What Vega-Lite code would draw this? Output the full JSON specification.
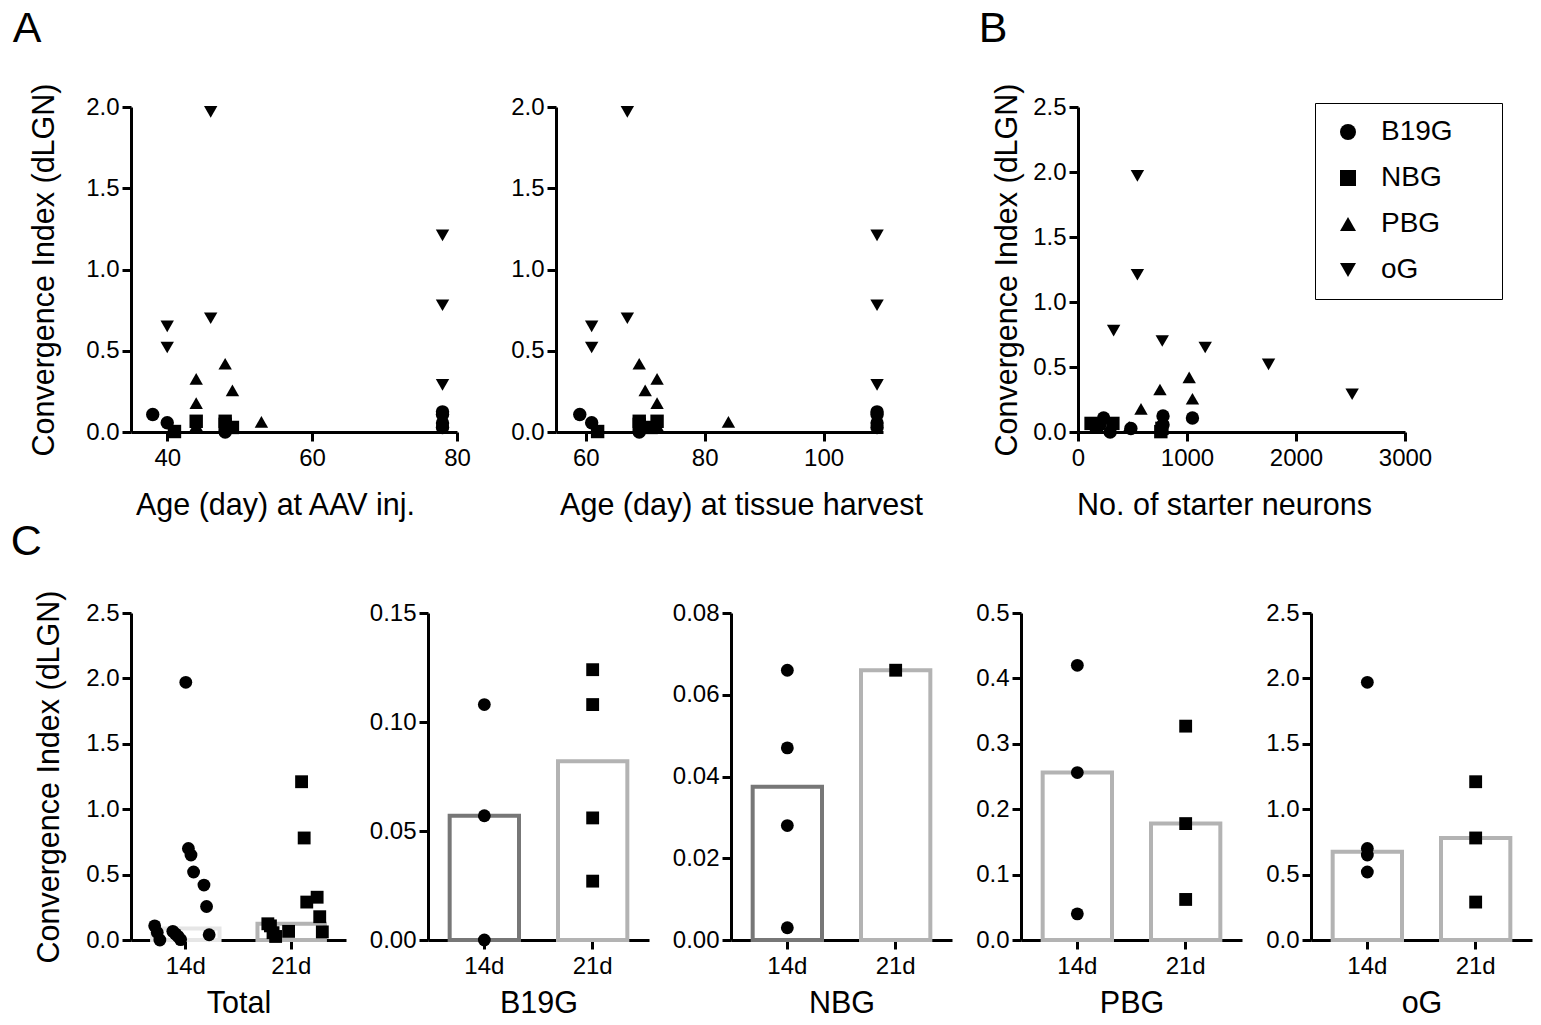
{
  "$schema": "https://vega.github.io/schema/vega-lite/v6.json",
  "background": "white",
  "padding": {"left": 10, "top": 8, "right": 10, "bottom": 4},
  "config": {
    "font": "Liberation Sans",
    "view": {"stroke": null},
    "axis": {"grid": false, "domainColor": "black", "domainWidth": 3, "tickColor": "black", "tickWidth": 3, "tickSize": 9, "labelFontSize": 24, "labelColor": "black", "labelPadding": 3, "titleFontSize": 30.5, "titleFontWeight": "normal", "titleColor": "black", "labelFont": "Liberation Sans", "titleFont": "Liberation Sans"},
    "axisY": {"titlePadding": 26},
    "axisX": {"titlePadding": 20, "labelFlush": false, "labelPadding": 5},
    "title": {"fontSize": 43, "fontWeight": "normal", "color": "black", "anchor": "start", "font": "Liberation Sans"}
  },
  "datasets": {
    "animals": [
      {"id": "b1", "group": "B19G", "time": "14d", "ci": 0.108, "aav": 38, "harvest": 59, "starters": 235},
      {"id": "b2", "group": "B19G", "time": "14d", "ci": 0.057, "aav": 40, "harvest": 61, "starters": 200},
      {"id": "b3", "group": "B19G", "time": "14d", "ci": 0.0, "aav": 48, "harvest": 69, "starters": 295},
      {"id": "b4", "group": "B19G", "time": "21d", "ci": 0.124, "aav": 78, "harvest": 109, "starters": 780},
      {"id": "b5", "group": "B19G", "time": "21d", "ci": 0.108, "aav": 78, "harvest": 109, "starters": 1050},
      {"id": "b6", "group": "B19G", "time": "21d", "ci": 0.056, "aav": 78, "harvest": 109, "starters": 780},
      {"id": "b7", "group": "B19G", "time": "21d", "ci": 0.027, "aav": 78, "harvest": 109, "starters": 485},
      {"id": "n1", "group": "NBG", "time": "14d", "ci": 0.066, "aav": 48, "harvest": 69, "starters": 320},
      {"id": "n2", "group": "NBG", "time": "14d", "ci": 0.047, "aav": 48, "harvest": 69, "starters": 170},
      {"id": "n3", "group": "NBG", "time": "14d", "ci": 0.028, "aav": 49, "harvest": 71, "starters": 770},
      {"id": "n4", "group": "NBG", "time": "14d", "ci": 0.003, "aav": 41, "harvest": 62, "starters": 760},
      {"id": "n5", "group": "NBG", "time": "21d", "ci": 0.066, "aav": 44, "harvest": 72, "starters": 120},
      {"id": "p1", "group": "PBG", "time": "14d", "ci": 0.42, "aav": 48, "harvest": 69, "starters": 1020},
      {"id": "p2", "group": "PBG", "time": "14d", "ci": 0.256, "aav": 49, "harvest": 70, "starters": 1050},
      {"id": "p3", "group": "PBG", "time": "14d", "ci": 0.04, "aav": 44, "harvest": 72, "starters": 470},
      {"id": "p4", "group": "PBG", "time": "21d", "ci": 0.327, "aav": 44, "harvest": 72, "starters": 752},
      {"id": "p5", "group": "PBG", "time": "21d", "ci": 0.178, "aav": 44, "harvest": 72, "starters": 578},
      {"id": "p6", "group": "PBG", "time": "21d", "ci": 0.062, "aav": 53, "harvest": 84, "starters": 200},
      {"id": "o1", "group": "oG", "time": "14d", "ci": 1.97, "aav": 46, "harvest": 67, "starters": 545},
      {"id": "o2", "group": "oG", "time": "14d", "ci": 0.70, "aav": 46, "harvest": 67, "starters": 773},
      {"id": "o3", "group": "oG", "time": "14d", "ci": 0.65, "aav": 40, "harvest": 61, "starters": 1167},
      {"id": "o4", "group": "oG", "time": "14d", "ci": 0.52, "aav": 40, "harvest": 61, "starters": 1748},
      {"id": "o5", "group": "oG", "time": "21d", "ci": 1.21, "aav": 78, "harvest": 109, "starters": 545},
      {"id": "o6", "group": "oG", "time": "21d", "ci": 0.78, "aav": 78, "harvest": 109, "starters": 327},
      {"id": "o7", "group": "oG", "time": "21d", "ci": 0.29, "aav": 78, "harvest": 109, "starters": 2515}
    ]
  },
  "columns": 1,
  "align": "none",
  "spacing": 0,
  "concat": [
    {
      "spacing": 55,
      "resolve": {"legend": {"shape": "independent"}},
      "hconcat": [
        {
          "title": {"text": "A", "frame": "bounds", "offset": 32, "dx": -17},
          "spacing": 39,
          "resolve": {"legend": {"shape": "independent"}},
          "hconcat": [
            {
              "width": 326, "height": 325,
              "data": {"name": "animals"},
              "mark": {"type": "point", "filled": true, "color": "black", "size": 180, "opacity": 1},
              "encoding": {
                "x": {"field": "aav", "type": "quantitative", "scale": {"domain": [35, 80], "nice": false, "zero": false}, "axis": {"values": [40, 60, 80], "title": "Age (day) at AAV inj.", "titleX": 144}},
                "y": {"field": "ci", "type": "quantitative", "scale": {"domain": [0, 2], "nice": false}, "axis": {"values": [0, 0.5, 1, 1.5, 2], "format": ".1f", "title": "Convergence Index (dLGN)"}},
                "shape": {"field": "group", "type": "nominal", "scale": {"domain": ["B19G", "NBG", "PBG", "oG"], "range": ["circle", "square", "triangle-up", "triangle-down"]}, "legend": null}
              }
            },
            {
              "width": 327, "height": 325,
              "data": {"name": "animals"},
              "mark": {"type": "point", "filled": true, "color": "black", "size": 180, "opacity": 1},
              "encoding": {
                "x": {"field": "harvest", "type": "quantitative", "scale": {"domain": [55, 110], "nice": false, "zero": false}, "axis": {"values": [60, 80, 100], "title": "Age (day) at tissue harvest", "titleX": 185}},
                "y": {"field": "ci", "type": "quantitative", "scale": {"domain": [0, 2], "nice": false}, "axis": {"values": [0, 0.5, 1, 1.5, 2], "format": ".1f", "title": null}},
                "shape": {"field": "group", "type": "nominal", "scale": {"domain": ["B19G", "NBG", "PBG", "oG"], "range": ["circle", "square", "triangle-up", "triangle-down"]}, "legend": null}
              }
            }
          ]
        },
        {
          "title": {"text": "B", "frame": "bounds", "offset": 32, "dx": -14},
          "width": 327, "height": 325,
          "data": {"name": "animals"},
          "mark": {"type": "point", "filled": true, "color": "black", "size": 180, "opacity": 1},
          "encoding": {
            "x": {"field": "starters", "type": "quantitative", "scale": {"domain": [0, 3000], "nice": false}, "axis": {"values": [0, 1000, 2000, 3000], "format": "d", "title": "No. of starter neurons", "titleX": 146}},
            "y": {"field": "ci", "type": "quantitative", "scale": {"domain": [0, 2.5], "nice": false}, "axis": {"values": [0, 0.5, 1, 1.5, 2, 2.5], "format": ".1f", "title": "Convergence Index (dLGN)", "titlePadding": 10}},
            "shape": {"field": "group", "type": "nominal", "scale": {"domain": ["B19G", "NBG", "PBG", "oG"], "range": ["circle", "square", "triangle-up", "triangle-down"]},
              "legend": {"orient": "none", "legendX": 237, "legendY": -4, "title": null, "strokeColor": "black", "padding": 15, "labelFontSize": 28, "labelColor": "black", "labelFont": "Liberation Sans", "symbolSize": 256, "symbolFillColor": "black", "symbolStrokeColor": "black", "rowPadding": 18, "symbolOffset": 4, "labelOffset": 19, "labelExpr": "datum.label + '\u2003\u2009\u200b'"}}
          }
        }
      ]
    },
    {
      "title": {"text": "C", "frame": "bounds", "offset": 26, "dx": -24},
      "spacing": 23,
      "resolve": {"scale": {"xOffset": "independent"}},
      "hconcat": [
        {
          "width": 215, "height": 327,
          "data": {"name": "animals"},
          "resolve": {"scale": {"xOffset": "independent"}},
          "encoding": {"x": {"field": "time", "type": "nominal", "scale": {"domain": ["14d", "21d"], "paddingInner": 0.36, "paddingOuter": 0.2}, "axis": {"title": "Total", "labelAngle": 0, "titlePadding": 10}}},
          "layer": [
            {"mark": {"type": "bar", "fill": "white", "strokeWidth": 4}, "encoding": {"y": {"aggregate": "median", "field": "ci", "type": "quantitative", "scale": {"domain": [0, 2.5], "nice": false}, "axis": {"values": [0, 0.5, 1, 1.5, 2, 2.5], "format": ".1f", "title": "Convergence Index (dLGN)", "titlePadding": 21}}, "stroke": {"condition": {"test": "datum.time === '14d'", "value": "#e6e6e6"}, "value": "#b3b3b3"}}},
            {"mark": {"type": "point", "filled": true, "color": "black", "size": 165, "opacity": 1}, "encoding": {"y": {"field": "ci", "type": "quantitative"}, "xOffset": {"field": "id", "type": "nominal", "scale": {"paddingOuter": 4}}, "shape": {"condition": {"test": "datum.time === '14d'", "value": "circle"}, "value": "square"}}}
          ]
        },
        {
          "width": 221, "height": 327,
          "data": {"name": "animals"},
          "transform": [{"filter": "datum.group === 'B19G'"}],
          "encoding": {"x": {"field": "time", "type": "nominal", "scale": {"domain": ["14d", "21d"], "paddingInner": 0.36, "paddingOuter": 0.2}, "axis": {"title": "B19G", "labelAngle": 0, "titlePadding": 10}}},
          "layer": [
            {"mark": {"type": "bar", "fill": "white", "strokeWidth": 4}, "encoding": {"y": {"aggregate": "median", "field": "ci", "type": "quantitative", "scale": {"domain": [0, 0.15], "nice": false}, "axis": {"values": [0, 0.05, 0.1, 0.15], "format": ".2f", "title": null}}, "stroke": {"condition": {"test": "datum.time === '14d'", "value": "#777777"}, "value": "#b3b3b3"}}},
            {"mark": {"type": "point", "filled": true, "color": "black", "size": 165, "opacity": 1}, "encoding": {"y": {"field": "ci", "type": "quantitative"}, "shape": {"condition": {"test": "datum.time === '14d'", "value": "circle"}, "value": "square"}}}
          ]
        },
        {
          "width": 221, "height": 327,
          "data": {"name": "animals"},
          "transform": [{"filter": "datum.group === 'NBG'"}],
          "encoding": {"x": {"field": "time", "type": "nominal", "scale": {"domain": ["14d", "21d"], "paddingInner": 0.36, "paddingOuter": 0.2}, "axis": {"title": "NBG", "labelAngle": 0, "titlePadding": 10}}},
          "layer": [
            {"mark": {"type": "bar", "fill": "white", "strokeWidth": 4}, "encoding": {"y": {"aggregate": "median", "field": "ci", "type": "quantitative", "scale": {"domain": [0, 0.08], "nice": false}, "axis": {"values": [0, 0.02, 0.04, 0.06, 0.08], "format": ".2f", "title": null}}, "stroke": {"condition": {"test": "datum.time === '14d'", "value": "#777777"}, "value": "#b3b3b3"}}},
            {"mark": {"type": "point", "filled": true, "color": "black", "size": 165, "opacity": 1}, "encoding": {"y": {"field": "ci", "type": "quantitative"}, "shape": {"condition": {"test": "datum.time === '14d'", "value": "circle"}, "value": "square"}}}
          ]
        },
        {
          "width": 221, "height": 327,
          "data": {"name": "animals"},
          "transform": [{"filter": "datum.group === 'PBG'"}],
          "encoding": {"x": {"field": "time", "type": "nominal", "scale": {"domain": ["14d", "21d"], "paddingInner": 0.36, "paddingOuter": 0.2}, "axis": {"title": "PBG", "labelAngle": 0, "titlePadding": 10}}},
          "layer": [
            {"mark": {"type": "bar", "fill": "white", "strokeWidth": 4}, "encoding": {"y": {"aggregate": "median", "field": "ci", "type": "quantitative", "scale": {"domain": [0, 0.5], "nice": false}, "axis": {"values": [0, 0.1, 0.2, 0.3, 0.4, 0.5], "format": ".1f", "title": null}}, "stroke": {"value": "#b3b3b3"}}},
            {"mark": {"type": "point", "filled": true, "color": "black", "size": 165, "opacity": 1}, "encoding": {"y": {"field": "ci", "type": "quantitative"}, "shape": {"condition": {"test": "datum.time === '14d'", "value": "circle"}, "value": "square"}}}
          ]
        },
        {
          "width": 221, "height": 327,
          "data": {"name": "animals"},
          "transform": [{"filter": "datum.group === 'oG'"}],
          "encoding": {"x": {"field": "time", "type": "nominal", "scale": {"domain": ["14d", "21d"], "paddingInner": 0.36, "paddingOuter": 0.2}, "axis": {"title": "oG", "labelAngle": 0, "titlePadding": 10}}},
          "layer": [
            {"mark": {"type": "bar", "fill": "white", "strokeWidth": 4}, "encoding": {"y": {"aggregate": "median", "field": "ci", "type": "quantitative", "scale": {"domain": [0, 2.5], "nice": false}, "axis": {"values": [0, 0.5, 1, 1.5, 2, 2.5], "format": ".1f", "title": null}}, "stroke": {"value": "#b3b3b3"}}},
            {"mark": {"type": "point", "filled": true, "color": "black", "size": 165, "opacity": 1}, "encoding": {"y": {"field": "ci", "type": "quantitative"}, "shape": {"condition": {"test": "datum.time === '14d'", "value": "circle"}, "value": "square"}}}
          ]
        }
      ]
    }
  ]
}
